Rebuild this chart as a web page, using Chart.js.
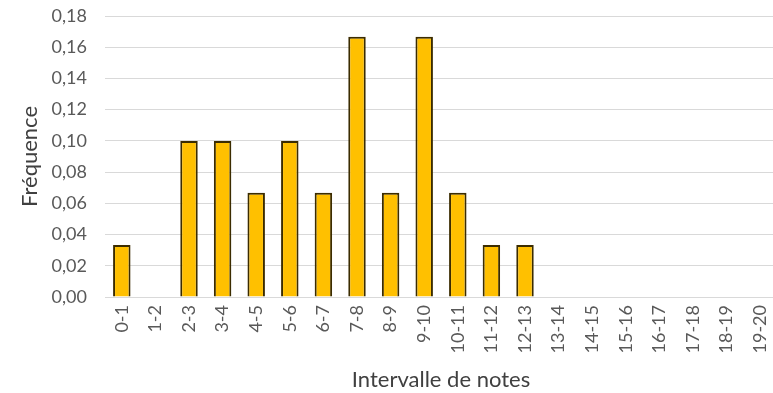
<!DOCTYPE html>
<html><head><meta charset="utf-8">
<script src="https://cdn.jsdelivr.net/npm/chart.js@4/dist/chart.umd.min.js"></script>
<style>html,body{margin:0;padding:0;background:#fff;overflow:hidden}#w{width:777px;height:393px}</style>
</head><body><div id="w"><canvas id="c"></canvas></div>
<script>
const categories = ["0-1","1-2","2-3","3-4","4-5","5-6","6-7","7-8","8-9","9-10","10-11","11-12","12-13","13-14","14-15","15-16","16-17","17-18","18-19","19-20"];
const frequencies = [0.0333,0,0.1,0.1,0.0667,0.1,0.0667,0.1667,0.0667,0.1667,0.0667,0.0333,0.0333,0,0,0,0,0,0,0];
const yTicks = [0,0.02,0.04,0.06,0.08,0.10,0.12,0.14,0.16,0.18];
const FONT = "Lato, 'Open Sans', sans-serif";
new Chart(document.getElementById('c'), {
  type: 'bar',
  data: { labels: categories, datasets: [{ data: frequencies, backgroundColor: '#FFC000', borderColor: '#3b2c00', borderWidth: 2, borderSkipped: 'bottom', barPercentage: 0.52, categoryPercentage: 1 }] },
  options: {
    responsive: true, maintainAspectRatio: false, animation: false,
    layout: { padding: { top: 16, right: 0, left: 0, bottom: 0 } },
    plugins: { legend: { display: false }, tooltip: { enabled: false } },
    scales: {
      x: {
        grid: { display: false, drawTicks: false },
        border: { color: '#d9d9d9', width: 1 },
        ticks: { color: '#595959', font: { family: FONT, size: 18 }, minRotation: 90, maxRotation: 90, autoSkip: false, padding: 8 },
        title: { display: true, text: 'Intervalle de notes', color: '#404040', font: { family: FONT, size: 22 }, padding: { top: 0, bottom: 0 } },
        afterFit: s => { s.height = 96; s.paddingLeft = 0; s.paddingRight = 0; }
      },
      y: {
        min: 0, max: 0.18,
        afterBuildTicks: s => { s.ticks = yTicks.map(v => ({ value: v })); },
        grid: { color: '#d9d9d9', lineWidth: 1, drawTicks: false },
        border: { display: false },
        ticks: { color: '#595959', font: { family: FONT, size: 18 }, padding: 18, callback: v => v.toFixed(2).replace('.', ',') },
        title: { display: true, text: 'Fréquence', color: '#404040', font: { family: FONT, size: 22 }, padding: { top: 17, bottom: 0 } },
        afterFit: s => { s.width = 105; s.paddingTop = 0; s.paddingBottom = 0; }
      }
    }
  }
});
</script></body></html>
